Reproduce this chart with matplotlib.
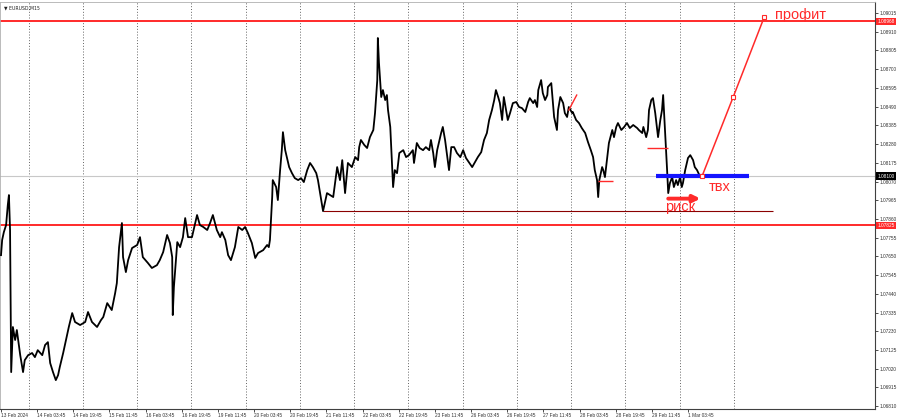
import matplotlib.pyplot as plt

plt.rcParams['font.family'] = ['Liberation Sans', 'DejaVu Sans']

# EURUSD M15, x = bar number (15 min bars, weekends skipped) counted from 13 Feb 11:45
bars = [0, 2, 5, 9, 12, 14, 16, 18, 21, 25, 28, 34, 39, 42, 48, 55, 60, 65, 73, 78,
        83, 87, 92, 97, 101, 104, 110, 115, 120, 126, 131, 140, 149, 154, 161, 170, 177, 181, 188, 196,
        202, 205, 209, 214, 216, 221, 225, 232, 241, 246, 251, 260, 267, 276, 281, 287, 294, 299, 303, 304,
        306, 312, 317, 322, 326, 331, 338, 347, 352, 358, 365, 370, 375, 382, 388, 391, 397, 402, 407, 414,
        420, 427, 432, 437, 444, 450, 455, 464, 471, 474, 476, 480, 481, 487, 490, 494, 497, 499, 503, 510,
        515, 520, 526, 531, 536, 542, 547, 552, 558, 561, 566, 570, 577, 588, 595, 600, 604, 609, 614, 621,
        627, 632, 634, 637, 643, 648, 653, 659, 662, 666, 667, 669, 673, 676, 680, 683, 685, 689, 692, 694,
        697, 701, 705, 712, 717, 722, 729, 731, 736, 741, 747, 752, 758, 761, 765, 768, 772, 775, 779, 782,
        786, 790, 793, 797, 802, 807, 813, 818, 823, 828, 834, 839, 844, 850, 855, 860, 864, 869, 873, 876,
        880, 883, 887, 890, 894, 897, 901, 906, 912, 917, 922, 928, 933, 936, 942, 945, 949, 951, 956, 959,
        963, 967, 968, 974, 977, 979, 984, 986, 990, 995, 998, 1002, 1005, 1011, 1012, 1018, 1023, 1028, 1034, 1039,
        1044, 1048, 1051, 1055, 1057, 1059, 1064, 1066, 1069, 1073, 1076, 1082, 1085, 1089, 1092, 1098, 1103, 1108, 1113, 1119,
        1126, 1129, 1135, 1137, 1142, 1145, 1147, 1151, 1154, 1158, 1161, 1163, 1167, 1170, 1172, 1175, 1179, 1181, 1184, 1188,
        1191, 1195, 1198, 1202, 1205, 1207, 1211, 1214, 1216, 1220, 1225, 1228, 1232, 1237]
close = [1.07657, 1.07742, 1.07786, 1.07826, 1.07938, 1.07994, 1.07798, 1.07001, 1.07254, 1.07181, 1.07237, 1.07096, 1.07001, 1.07068, 1.07096, 1.07108, 1.07085, 1.07124, 1.07096, 1.07153,
         1.07169, 1.07052, 1.07001, 1.06956, 1.06984, 1.07029, 1.07108, 1.07181, 1.07254, 1.07332, 1.07282, 1.07265, 1.07282, 1.07338, 1.07282, 1.07254, 1.07293, 1.07310, 1.07388, 1.07349,
         1.07444, 1.07500, 1.07702, 1.07837, 1.07646, 1.07562, 1.07629, 1.07697, 1.07714, 1.07758, 1.07646, 1.07613, 1.07585, 1.07601, 1.07629, 1.07674, 1.07770, 1.07725, 1.07646, 1.07321,
         1.07478, 1.07730, 1.07702, 1.07758, 1.07865, 1.07758, 1.07758, 1.07882, 1.07826, 1.07815, 1.07798, 1.07837, 1.07882, 1.07798, 1.07758, 1.07786, 1.07742, 1.07657, 1.07629, 1.07702,
         1.07815, 1.07798, 1.07815, 1.07781, 1.07725, 1.07641, 1.07669, 1.07685, 1.07714, 1.07702, 1.07742, 1.07983, 1.08078, 1.08039, 1.07966, 1.08134, 1.08246, 1.08347, 1.08246, 1.08151,
         1.08117, 1.08089, 1.08078, 1.08089, 1.08067, 1.08134, 1.08174, 1.08151, 1.08117, 1.08078, 1.07983, 1.07904, 1.08005, 1.07983, 1.08151, 1.08078, 1.08190, 1.08005, 1.08174, 1.08151,
         1.08207, 1.08190, 1.08263, 1.08303, 1.08275, 1.08258, 1.08319, 1.08359, 1.08454, 1.08639, 1.08875, 1.08735, 1.08544, 1.08583, 1.08527, 1.08555, 1.08471, 1.08376, 1.08174, 1.08039,
         1.08134, 1.08117, 1.08230, 1.08246, 1.08207, 1.08218, 1.08246, 1.08174, 1.08286, 1.08258, 1.08246, 1.08263, 1.08246, 1.08303, 1.08230, 1.08151, 1.08246, 1.08286, 1.08342, 1.08376,
         1.08303, 1.08207, 1.08134, 1.08263, 1.08263, 1.08230, 1.08207, 1.08246, 1.08202, 1.08179, 1.08151, 1.08179, 1.08207, 1.08235, 1.08303, 1.08342, 1.08415, 1.08471, 1.08527, 1.08583,
         1.08544, 1.08510, 1.08415, 1.08544, 1.08471, 1.08415, 1.08454, 1.08510, 1.08516, 1.08488, 1.08482, 1.08460, 1.08516, 1.08538, 1.08510, 1.08527, 1.08488, 1.08583, 1.08639, 1.08566,
         1.08527, 1.08555, 1.08600, 1.08622, 1.08510, 1.08432, 1.08359, 1.08471, 1.08544, 1.08510, 1.08454, 1.08432, 1.08488, 1.08454, 1.08460, 1.08415, 1.08398, 1.08370, 1.08342, 1.08291,
         1.08246, 1.08207, 1.08134, 1.08078, 1.07983, 1.08078, 1.08151, 1.08134, 1.08095, 1.08207, 1.08286, 1.08359, 1.08319, 1.08376, 1.08398, 1.08359, 1.08376, 1.08398, 1.08370, 1.08387,
         1.08370, 1.08359, 1.08342, 1.08376, 1.08319, 1.08359, 1.08471, 1.08527, 1.08538, 1.08454, 1.08376, 1.08319, 1.08415, 1.08471, 1.08555, 1.08376, 1.08134, 1.08005, 1.08061, 1.08095,
         1.08039, 1.08078, 1.08050, 1.08095, 1.08039, 1.08061, 1.08134, 1.08174, 1.08202, 1.08218, 1.08190, 1.08151, 1.08134, 1.08100]

# levels
profit_level = 1.08968
stop_level = 1.07825
bid = 1.08100
entry_level = 1.08100
risk_level = 1.07904

# time labels every 64 bars, day separators every 96 bars
time_labels = ['13 Feb 2024', '14 Feb 03:45', '14 Feb 19:45', '15 Feb 11:45', '16 Feb 03:45',
               '16 Feb 19:45', '19 Feb 11:45', '20 Feb 03:45', '20 Feb 19:45', '21 Feb 11:45',
               '22 Feb 03:45', '22 Feb 19:45', '23 Feb 11:45', '26 Feb 03:45', '26 Feb 19:45',
               '27 Feb 11:45', '28 Feb 03:45', '28 Feb 19:45', '29 Feb 11:45', '1 Mar 03:45']
label_bars = [64 * i for i in range(len(time_labels))]
day_bars = [49 + 96 * i for i in range(14)]
price_ticks = [round(1.09015 - 0.00105 * i, 5) for i in range(22)]

RED = '#ff2a2a'

fig = plt.figure(figsize=(9, 4.19), dpi=100)
ax = fig.add_axes([0.0, 10 / 419, 875 / 900, 407 / 419])
ax.set_xlim(-1.8, 1547)
ax.set_ylim(1.06794, 1.09077)

for b in day_bars:
    ax.axvline(b, color='#505050', lw=0.6, ls=(0, (1.2, 2.2)), zorder=1)

ax.axhline(bid, color='#c8c8c8', lw=0.8, zorder=1)
ax.axhline(profit_level, color=RED, lw=1.4, zorder=2)
ax.axhline(stop_level, color=RED, lw=1.4, zorder=2)

ax.plot(bars, close, color='black', lw=1.3, zorder=3)

# drawn objects
ax.hlines(risk_level, 570, 1367, color='#8a0000', lw=0.8, zorder=2)
ax.hlines(entry_level, 1159, 1324, color='#1414ff', lw=3, zorder=4)
ax.hlines(1.08259, 1144, 1181, color=RED, lw=1, zorder=4)
ax.hlines(1.08073, 1057, 1083, color=RED, lw=1, zorder=4)
ax.plot([1005, 1019], [1.08471, 1.08555], color=RED, lw=1, zorder=4)
ax.plot([1241, 1296, 1351], [1.08101, 1.08544, 1.08993], color=RED, lw=1.1, zorder=5,
        marker='s', ms=2.5, mfc='white', mec=RED, mew=0.8)
ax.annotate('', xy=(1238, 1.07974), xytext=(1181, 1.07974),
            arrowprops=dict(arrowstyle='-|>', color=RED, lw=2.8, mutation_scale=10,
                            shrinkA=0, shrinkB=0), zorder=5)

ax.text(1370, 1.08979, 'профит', color=RED, fontsize=10.5, va='baseline', ha='left')
ax.text(1175, 1.07905, 'риск', color=RED, fontsize=10.5, va='baseline', ha='left')
ax.text(1253, 1.08016, 'твх', color=RED, fontsize=10.5, va='baseline', ha='left')

ax.text(0.004, 0.992, '▼ EURUSD,M15', transform=ax.transAxes, fontsize=3.3,
        color='#202020', va='top', ha='left', family=['DejaVu Sans'])

# axes styling
ax.yaxis.tick_right()
ax.set_yticks(price_ticks)
ax.set_yticklabels(['%.5f' % p for p in price_ticks])
ax.set_xticks(label_bars)
ax.set_xticklabels(time_labels)
for t in ax.get_xticklabels():
    t.set_horizontalalignment('left')
ax.tick_params(axis='y', labelsize=3.4, length=2, width=0.6, pad=1.5, colors='#303030')
ax.tick_params(axis='x', labelsize=3.4, length=2, width=0.6, pad=1, colors='#303030')
for side in ['right', 'bottom']:
    ax.spines[side].set_color('#404040')
    ax.spines[side].set_linewidth(0.8)
for side in ['top', 'left']:
    ax.spines[side].set_color('#b0b0b0')
    ax.spines[side].set_linewidth(0.6)

yax = ax.get_yaxis_transform()
for level, fc in [(profit_level, RED), (stop_level, RED), (bid, 'black')]:
    ax.text(1.003, level, '%.5f' % level, transform=yax, fontsize=3.4, color='white',
            va='center', ha='left', zorder=10,
            bbox=dict(boxstyle='square,pad=0.25', fc=fc, ec='none'))

fig.savefig('out.png', dpi=100)
